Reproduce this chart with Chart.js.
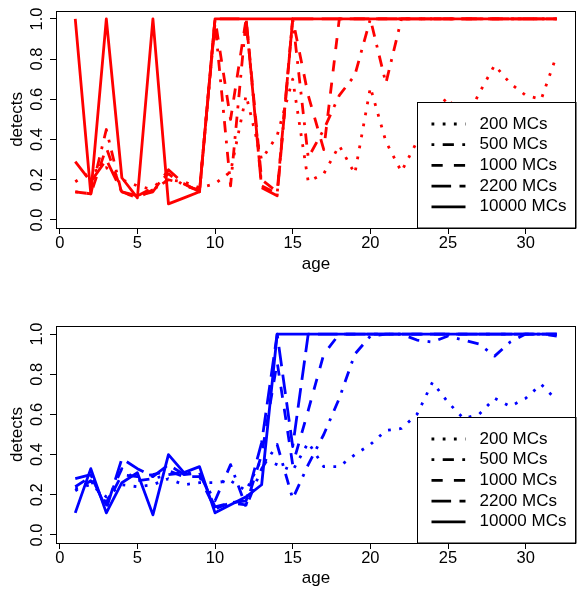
<!DOCTYPE html>
<html>
<head>
<meta charset="utf-8">
<script src="https://cdn.jsdelivr.net/npm/chart.js@4"></script>
<style>
  html, body { margin:0; padding:0; background:#fff; }
  #wrap { position:relative; width:577px; height:589px; }
  .panel { position:absolute; left:0; width:577px; }
</style>
</head>
<body>
<div id="wrap">
  <div class="panel" style="top:0;height:294px"><canvas id="chartTop" width="577" height="294"></canvas></div>
  <div class="panel" style="top:294px;height:295px"><canvas id="chartBottom" width="577" height="295"></canvas></div>
</div>
<script>
const ages = [1,2,3,4,5,6,7,8,9,10,11,12,13,14,15,16,17,18,19,20,21,22,23,24,25,26,27,28,29,30,31,32];
const xTicks = [0,5,10,15,20,25,30];
const yTicks = [0,0.2,0.4,0.6,0.8,1.0];
const seriesLabels = ["200 MCs","500 MCs","1000 MCs","2200 MCs","10000 MCs"];

/* top panel (red) */
const top200   = [.19,.24,.26,.20,.17,.15,.20,.19,.16,.18, .24,.62,.30,.42,.70,.19,.23,.37,.23,.66, .39,.24,.39,.54,.61,.47,.63,.77,.68,.62, .60,.82];
const top500   = [.14,.13,.45,.13,.12,.16,.23,.17,.15,.98, .17,1,.17,.13,1,.31,.45,.62,.72,1, .68,1,1,1,1,1,1,1,1,1, 1,1];
const top1000  = [.14,.13,.36,.14,.11,.15,.20,.18,.14,1, .50,1,.20,.14,1,.62,.35,1,1,1, 1,1,1,1,1,1,1,1,1,1, 1,1];
const top2200  = [.29,.19,.30,.14,.12,.14,.25,.18,.14,1, 1,1,.16,.12,1,1,1,1,1,1, 1,1,1,1,1,1,1,1,1,1, 1,1];
const top10000 = [1,.13,1,.21,.11,1,.08,.11,.14,1, 1,1,1,1,1,1,1,1,1,1, 1,1,1,1,1,1,1,1,1,1, 1,1];

/* bottom panel (blue) */
const bot200   = [.23,.25,.19,.25,.24,.25,.28,.25,.26,.26, .27,.22,.38,.35,.32,.46,.34,.34,.40,.45, .52,.53,.60,.76,.66,.58,.60,.68,.64,.68, .75,.67];
const bot500   = [.22,.27,.16,.33,.27,.28,.30,.31,.30,.17, .35,.14,.33,.45,.18,.35,.50,.68,.90,.99, 1,1,.97,.96,.99,.97,.95,.89,.96,1, 1,.99];
const bot1000  = [.24,.29,.15,.30,.29,.30,.32,.29,.29,.13, .16,.15,.40,.86,.35,.62,.90,1,1,1, 1,1,1,1,1,1,1,1,1,1, 1,1];
const bot2200  = [.28,.30,.13,.38,.33,.29,.35,.30,.31,.14, .16,.17,.46,1,.44,1,1,1,1,1, 1,1,1,1,1,1,1,1,1,1, 1,1];
const bot10000 = [.11,.33,.11,.26,.31,.10,.40,.31,.34,.11, .15,.19,.25,1,1,1,1,1,1,1, 1,1,1,1,1,1,1,1,1,1, 1,1];

// R line types: dotted, dotdash, dashed, longdash, solid
const U = 2.8;
const dashes = [[U,3*U],[U,3*U,4*U,3*U],[4*U,4*U],[7*U,3*U],[]];
const FONT = "'Liberation Sans', Arial, Helvetica, sans-serif";
Chart.defaults.font.family = FONT;
Chart.defaults.color = "#000";

/* legend box inside plot, bottom right */
const boxLegend = {
  id:"boxLegend",
  afterDatasetsDraw(chart){
    const ctx = chart.ctx, a = chart.chartArea;
    const x0 = Math.round(a.right - 159) + 0.5;
    const y0 = Math.round(a.bottom - 126) + 0.5;
    ctx.save();
    ctx.fillStyle = "#fff";
    ctx.fillRect(x0, y0, a.right - x0, a.bottom - y0);
    ctx.strokeStyle = "#000";
    ctx.lineWidth = 1;
    ctx.strokeRect(x0, y0, a.right - x0, a.bottom - y0);
    ctx.font = "17px " + FONT;
    ctx.textBaseline = "middle";
    ctx.fillStyle = "#000";
    chart.data.datasets.forEach((ds,i)=>{
      const y = a.bottom - 104 + i*20.7;
      ctx.beginPath();
      ctx.setLineDash(ds.borderDash || []);
      ctx.lineWidth = ds.borderWidth;
      ctx.moveTo(x0 + 14, y);
      ctx.lineTo(x0 + 48, y);
      ctx.stroke();
      ctx.setLineDash([]);
      ctx.fillText(ds.label, x0 + 62, y);
    });
    ctx.restore();
  }
};

/* box around plot region */
const frame = {
  id:"frame",
  afterDraw(chart){
    const ctx = chart.ctx, a = chart.chartArea;
    ctx.save();
    ctx.strokeStyle = "#000";
    ctx.lineWidth = 1;
    ctx.strokeRect(Math.round(a.left)+0.5, Math.round(a.top)+0.5, Math.round(a.right-a.left)-1, Math.round(a.bottom-a.top));
    ctx.restore();
  }
};

function buildChart(id, color, rows, padTop, xAxisHeight, titlePad){
  return new Chart(document.getElementById(id),{
    type:"line",
    data:{
      datasets: seriesLabels.map((lab,i)=>({
        label:lab,
        data: ages.map((a,j)=>({x:a, y:rows[i][j]})),
        borderColor:color,
        borderWidth:U,
        borderDash:dashes[i],
        borderCapStyle:"butt",
        borderJoinStyle:"round",
        pointRadius:0,
        fill:false,
        tension:0
      }))
    },
    options:{
      responsive:false,
      animation:false,
      devicePixelRatio:1,
      layout:{padding:{top:padTop, right:1, left:0, bottom:0}},
      plugins:{legend:{display:false}, tooltip:{enabled:false}},
      scales:{
        x:{
          type:"linear", min:-0.24, max:33.24,
          afterBuildTicks: s=>{ s.ticks = xTicks.map(v=>({value:v})); },
          afterFit: s=>{ s.height = xAxisHeight; },
          ticks:{font:{size:16.5}, padding:0, maxRotation:0, autoSkip:false, color:"#000"},
          grid:{drawOnChartArea:false, tickLength:6, color:"#000"},
          border:{display:false},
          title:{display:true, text:"age", font:{size:17}, color:"#000", padding:{top:0, bottom:titlePad}}
        },
        y:{
          type:"linear", min:-0.04, max:1.04,
          afterBuildTicks: s=>{ s.ticks = yTicks.map(v=>({value:v})); },
          afterFit: s=>{ s.width = 56; },
          ticks:{font:{size:16.5}, padding:1, minRotation:90, maxRotation:90, crossAlign:"center", autoSkip:false, color:"#000",
                 callback:v=>Number(v).toFixed(1)},
          grid:{drawOnChartArea:false, tickLength:6, color:"#000"},
          border:{display:false},
          title:{display:true, text:"detects", font:{size:17}, color:"#000", padding:{top:7, bottom:0}}
        }
      }
    },
    plugins:[boxLegend, frame]
  });
}

buildChart("chartTop", "#ff0000", [top200, top500, top1000, top2200, top10000], 10, 66, 19);
buildChart("chartBottom", "#0000ff", [bot200, bot500, bot1000, bot2200, bot10000], 32, 46, 0);
</script>
</body>
</html>
